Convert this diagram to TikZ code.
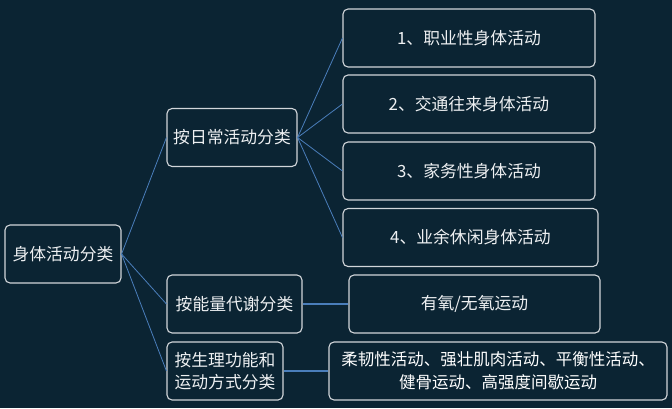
\documentclass[tikz,border=0pt]{standalone}
\usepackage{fontspec}
\setmainfont{Noto Sans CJK SC}
\usetikzlibrary{positioning, calc}
\usepackage{xcolor}
\definecolor{bgnavy}{HTML}{0B2433}
\definecolor{boxedge}{HTML}{D2D6DA}
\definecolor{linkblue}{HTML}{4A7EBB}
\definecolor{labelgray}{HTML}{EEF0F2}

\begin{document}
\begin{tikzpicture}[
    x=1pt, y=-1pt,
    font=\fontsize{16.8}{22.5}\selectfont,
    base/.style={draw=boxedge, rounded corners=5pt, line width=1.1pt, text=labelgray, align=center, inner sep=2pt},
    rootbox/.style={base, minimum width=116pt, minimum height=58pt},
    groupbox/.style={base, minimum height=58pt},
    leafbox/.style={base, minimum width=252pt, minimum height=58pt},
    link/.style={line width=0.8pt, linkblue},
    hlink/.style={line width=2pt, linkblue}
  ]
    \fill[bgnavy] (0,0) rectangle (672,408);
    % root and groups
    \node[rootbox] (root) at (63,254) {身体活动分类};
    \node[groupbox, minimum width=130pt] (daily) at (232,137.5) {按日常活动分类};
    \node[groupbox, minimum width=135pt] (energy) at (234.5,304) {按能量代谢分类};
    \node[groupbox, minimum width=116pt] (physio) at (225,371) {按生理功能和\\运动方式分类};
    % leaves
    \node[leafbox] (job) at (469,38) {1、职业性身体活动};
    \node[leafbox] (commute) at (469,104) {2、交通往来身体活动};
    \node[leafbox] (house) at (469,171) {3、家务性身体活动};
    \node[leafbox, minimum width=255pt] (leisure) at (470.5,237.5) {4、业余休闲身体活动};
    \node[leafbox, minimum width=251pt] (aerobic) at (474.5,304) {有氧/无氧运动};
    \node[leafbox, minimum width=338pt, text=white, font=\fontsize{16.5}{22.5}\selectfont] (types) at (498,371)
    {柔韧性活动、强壮肌肉活动、平衡性活动、\\健骨运动、高强度间歇运动};
    % connectors
    \draw[link] (root.east) -- (daily.west);
    \draw[link] (root.east) -- (energy.west);
    \draw[link] (root.east) -- (physio.west);
    \draw[link] (daily.east) -- (job.west);
    \draw[link] (daily.east) -- (commute.west);
    \draw[link] (daily.east) -- (house.west);
    \draw[link] (daily.east) -- (leisure.west);
    \draw[hlink] (energy.east) -- (aerobic.west);
    \draw[hlink] (physio.east) -- (types.west);
  \end{tikzpicture}
\end{document}
